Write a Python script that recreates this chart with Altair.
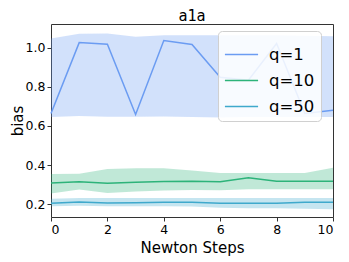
import altair as alt
import pandas as pd

steps = [0, 1, 2, 3, 4, 5, 6, 7, 8, 9, 10]
series = ["q=1", "q=10", "q=50"]
colors = ["#6b9cf2", "#2db37a", "#3fa9cc"]

q1_mean = [0.663, 1.025, 1.017, 0.658, 1.036, 1.015, 0.848, 0.833, 1.02, 0.663, 0.68]
q1_lo = [0.645, 0.65, 0.647, 0.647, 0.648, 0.645, 0.643, 0.645, 0.645, 0.645, 0.645]
q1_hi = [1.046, 1.07, 1.071, 1.055, 1.062, 1.062, 1.062, 1.062, 1.062, 1.06, 1.058]

q10_mean = [0.309, 0.315, 0.307, 0.312, 0.316, 0.318, 0.315, 0.335, 0.317, 0.318, 0.317]
q10_lo = [0.255, 0.275, 0.258, 0.265, 0.27, 0.273, 0.272, 0.277, 0.277, 0.277, 0.277]
q10_hi = [0.354, 0.356, 0.38, 0.384, 0.384, 0.372, 0.36, 0.36, 0.36, 0.36, 0.386]

q50_mean = [0.205, 0.212, 0.207, 0.208, 0.21, 0.21, 0.205, 0.205, 0.205, 0.21, 0.21]
q50_lo = [0.19, 0.192, 0.19, 0.19, 0.19, 0.188, 0.182, 0.18, 0.18, 0.177, 0.175]
q50_hi = [0.228, 0.232, 0.232, 0.232, 0.232, 0.232, 0.232, 0.232, 0.232, 0.232, 0.232]

rows = []
for name, m, lo, hi in [("q=1", q1_mean, q1_lo, q1_hi),
                        ("q=10", q10_mean, q10_lo, q10_hi),
                        ("q=50", q50_mean, q50_lo, q50_hi)]:
    for s, a, b, c in zip(steps, m, lo, hi):
        rows.append({"step": s, "series": name, "mean": a, "lo": b, "hi": c})
df = pd.DataFrame(rows)

legend = alt.Legend(title=None, orient="none", legendX=167, legendY=7,
                    symbolType="stroke", symbolSize=1100,
                    symbolStrokeWidth=1.5, symbolOpacity=1,
                    labelFontSize=16.5, labelFont="DejaVu Sans",
                    labelColor="black", rowPadding=-10,
                    fillColor="rgba(255,255,255,0.85)",
                    strokeColor="#d0d0d0", cornerRadius=4,
                    padding=6, labelOffset=10)

color_scale = alt.Scale(domain=series, range=colors)
x_enc = alt.X("step:Q", scale=alt.Scale(domain=[0, 10], nice=False),
              axis=alt.Axis(values=[0, 2, 4, 6, 8, 10], title="Newton Steps"))
y_scale = alt.Scale(domain=[0.135, 1.12], nice=False, zero=False)

bands = alt.Chart(df).mark_area(opacity=0.3).encode(
    x=x_enc,
    y=alt.Y("lo:Q", scale=y_scale,
            axis=alt.Axis(values=[0.2, 0.4, 0.6, 0.8, 1.0], format=".1f", title="bias")),
    y2="hi:Q",
    color=alt.Color("series:N", scale=color_scale, sort=series, legend=legend),
    detail="series:N",
)

lines = alt.Chart(df).mark_line(strokeWidth=1.5).encode(
    x=x_enc,
    y=alt.Y("mean:Q", scale=y_scale),
    color=alt.Color("series:N", scale=color_scale, sort=series, legend=legend),
)

chart = alt.layer(bands, lines).properties(
    width=282, height=193,
    title=alt.Title("a1a", font="DejaVu Sans Mono", fontSize=15, fontWeight="normal",
                    color="black", offset=0),
    autosize=alt.AutoSizeParams(type="none"),
    padding={"left": 43, "top": 16, "right": 8, "bottom": 46},
).configure_view(stroke="#333333", strokeWidth=1).configure_axis(
    labelFont="DejaVu Sans", labelFontSize=12.5, labelColor="black",
    titleFont="DejaVu Sans", titleFontSize=15, titleFontWeight="normal", titleColor="black",
    grid=False, domain=False, tickColor="#333333", tickSize=4, labelPadding=2,
).configure_axisX(titlePadding=5).configure_axisY(titlePadding=0)

chart.save("out.html", embed_options={"renderer": "svg", "actions": False})
